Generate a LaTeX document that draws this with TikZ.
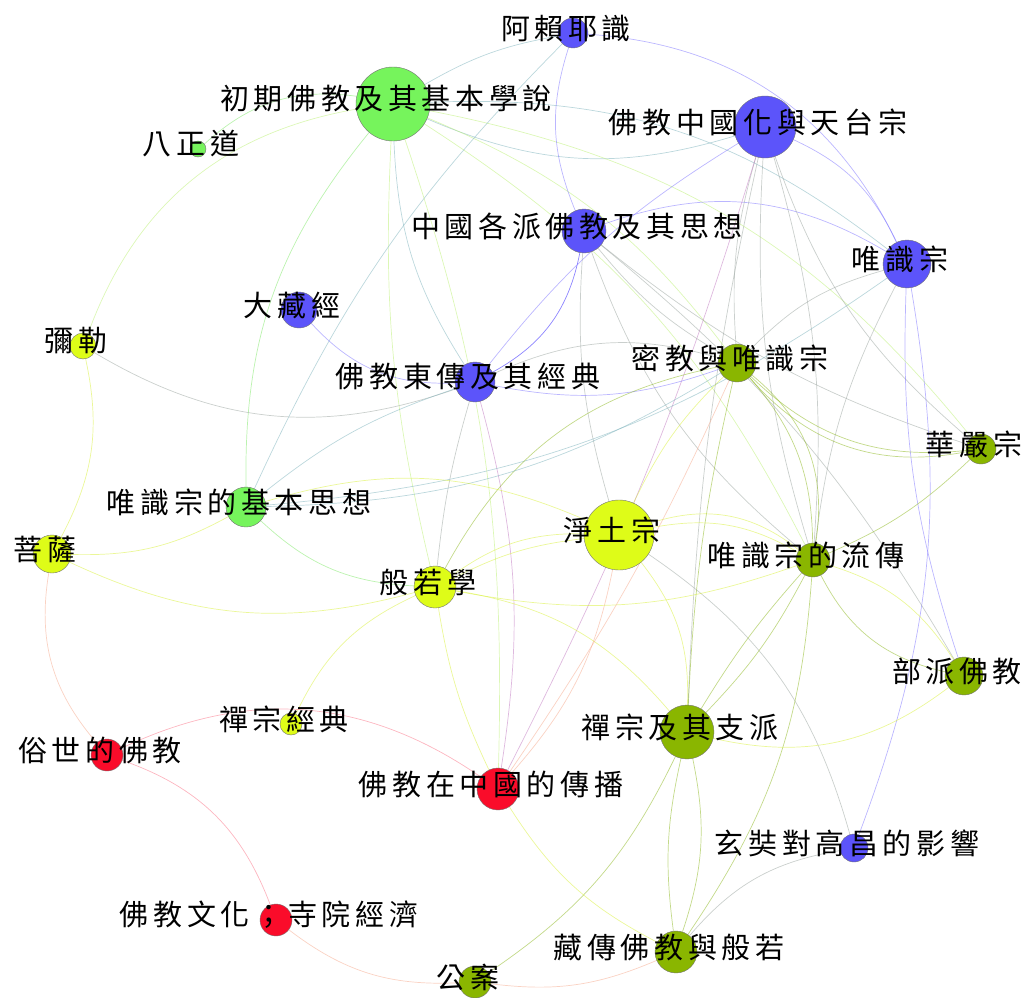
\documentclass[tikz,border=0pt]{standalone}
\usepackage{fontspec}
\newfontfamily\cjk[LetterSpace=16]{Noto Sans CJK TC}
\pgfdeclarelayer{background}
\pgfsetlayers{background,main}
\definecolor{nblue}{RGB}{92,84,250}
\definecolor{ngreen}{RGB}{118,244,92}
\definecolor{nyellow}{RGB}{222,252,24}
\definecolor{nolive}{RGB}{138,182,0}
\definecolor{nred}{RGB}{250,12,42}
\definecolor{cB}{RGB}{120,110,255}
\definecolor{cG}{RGB}{120,230,95}
\definecolor{cY}{RGB}{215,240,50}
\definecolor{cYG}{RGB}{185,240,110}
\definecolor{cO}{RGB}{135,180,20}
\definecolor{cR}{RGB}{250,110,130}
\definecolor{cS}{RGB}{245,165,135}
\definecolor{cT}{RGB}{120,175,185}
\definecolor{cK}{RGB}{150,160,155}
\definecolor{cP}{RGB}{190,115,190}
\tikzset{
  dot/.style={circle,draw=black!55,line width=.4pt,inner sep=0pt},
  lbl/.style={font=\cjk\fontsize{29}{30}\selectfont,inner sep=0pt},
  link/.style={line width=.7pt,draw opacity=.5}
}
\def\nodelist{al/573/33/15/nblue/阿賴耶識,
  cq/393/104/37/ngreen/初期佛教及其基本學說,
  zh/765/127/31/nblue/佛教中國化與天台宗,
  bz/198/149/8/ngreen/八正道,
  gp/584/231/22/nblue/中國各派佛教及其思想,
  wz/907/264/24/nblue/唯識宗,
  dz/299/310/18/nblue/大藏經,
  ml/83/346/13/nyellow/彌勒,
  dc/475/382/20/nblue/佛教東傳及其經典,
  mj/737/363/19/nolive/密教與唯識宗,
  hy/981/449/15/nolive/華嚴宗,
  wj/246/507/20/ngreen/唯識宗的基本思想,
  jt/619/535/35/nyellow/淨土宗,
  lc/813/560/17/nolive/唯識宗的流傳,
  ps/52/554/19/nyellow/菩薩,
  br/435/587/21/nyellow/般若學,
  bp/964/676/19/nolive/部派佛教,
  cj/291/724/11/nyellow/禪宗經典,
  cz/687/732/27/nolive/禪宗及其支派,
  ss/107/755/16/nred/俗世的佛教,
  fz/498/789/21/nred/佛教在中國的傳播,
  xz/854/848/14/nblue/玄奘對高昌的影響,
  wh/276/920/16/nred/佛教文化；寺院經濟,
  zc/676/952/21/nolive/藏傳佛教與般若,
  ga/475/982/16/nolive/公案}
\begin{document}
\begin{tikzpicture}[x=1pt,y=-1pt]
  \useasboundingbox (0,0) rectangle (1031,998);
  \foreach \n/\x/\y/\r/\c/\t in \nodelist
    \node[dot,fill=\c,minimum size=2*\r] (\n) at (\x,\y) {};
  \begin{pgfonlayer}{background}
    % green
    \draw[link,cG] (cq) to[bend right=25] (bz);
    \draw[link,cYG] (cq) to[bend right=30] (ml);
    \draw[link,cG] (cq) to[bend right=20] (wj);
    \draw[link,cT] (cq) to[bend right=15] (dc);
    \draw[link,cYG] (cq) to[bend right=8] (br);
    \draw[link,cYG] (fz) to[bend right=10] (cq);
    \draw[link,cT] (cq) to[bend right=20] (zh);
    \draw[link,cT] (wz) to[bend right=20] (cq);
    \draw[link,cYG] (hy) to[bend right=20] (cq);
    \draw[link,cYG] (mj) to[bend right=15] (cq);
    \draw[link,cYG] (lc) to[bend right=15] (cq);
    % blue
    \draw[link,cB] (wz) to[bend right=30] (al);
    \draw[link,cB] (al) to[bend right=20] (gp);
    \draw[link,cT] (al) to[bend right=10] (cq);
    \draw[link,cT] (al) to[bend right=10] (wj);
    \draw[link,cB] (wz) to[bend right=25] (gp);
    \draw[link,cB] (wz) to[bend right=20] (zh);
    \draw[link,cB] (zh) to[bend right=10] (dc);
    \draw[link,cK] (zh) to[bend right=10] (mj);
    \draw[link,cK] (zh) to[bend right=10] (lc);
    \draw[link,cK] (lc) to[bend right=10] (zh);
    \draw[link,cK] (zh) to[bend right=15] (hy);
    \draw[link,cK] (zh) to[bend right=5] (cz);
    \draw[link,cP] (fz) to[bend right=5] (zh);
    \draw[link,cB,draw opacity=.85] (dc) to[bend right=25] (gp);
    \draw[link,cK] (gp) to[bend right=10] (mj);
    \draw[link,cK] (gp) to[bend right=15] (lc);
    \draw[link,cK] (gp) to[bend right=10] (jt);
    \draw[link,cK] (gp) to[bend right=10] (hy);
    \draw[link,cB] (dz) to[bend right=25] (dc);
    \draw[link,cK] (ml) to[bend right=25] (dc);
    \draw[link,cB] (dc) to[bend right=15] (mj);
    \draw[link,cK] (mj) to[bend right=20] (dc);
    \draw[link,cP] (fz) to[bend right=12] (dc);
    \draw[link,cK] (dc) to[bend right=5] (br);
    \draw[link,cT] (dc) to[bend right=10] (wj);
    \draw[link,cB] (xz) to[bend right=15] (wz);
    \draw[link,cB] (wz) to[bend right=10] (bp);
    \draw[link,cK] (wz) to[bend right=15] (mj);
    \draw[link,cK] (wz) to[bend right=10] (lc);
    \draw[link,cT] (wj) to[bend right=15] (wz);
    \draw[link,cK] (bp) to[bend right=10] (gp);
    % olive
    \draw[link,cO] (mj) to[bend right=25] (hy);
    \draw[link,cO] (mj) to[bend right=30] (hy);
    \draw[link,cO] (lc) to[bend right=20] (mj);
    \draw[link,cO] (lc) to[bend right=30] (mj);
    \draw[link,cO] (mj) to[bend right=25] (br);
    \draw[link,cY] (mj) to[bend right=10] (jt);
    \draw[link,cO] (mj) to[bend right=5] (cz);
    \draw[link,cT] (wj) to[bend right=15] (mj);
    \draw[link,cY] (jt) to[bend right=10] (br);
    \draw[link,cY] (jt) to[bend right=18] (br);
    \draw[link,cY] (lc) to[bend right=20] (jt);
    \draw[link,cY] (lc) to[bend right=28] (jt);
    \draw[link,cY] (cz) to[bend right=20] (jt);
    \draw[link,cS] (fz) to[bend right=15] (jt);
    \draw[link,cY] (jt) to[bend right=20] (wj);
    \draw[link,cK] (xz) to[bend right=20] (jt);
    \draw[link,cO] (lc) to[bend right=25] (bp);
    \draw[link,cY] (bp) to[bend right=20] (lc);
    \draw[link,cO] (lc) to[bend right=5] (cz);
    \draw[link,cO] (cz) to[bend right=8] (lc);
    \draw[link,cO] (zc) to[bend right=15] (lc);
    \draw[link,cY] (br) to[bend right=15] (lc);
    \draw[link,cO] (lc) to[bend right=10] (hy);
    \draw[link,cO] (ga) to[bend right=15] (cz);
    \draw[link,cO] (cz) to[bend right=10] (zc);
    \draw[link,cO] (zc) to[bend right=15] (cz);
    \draw[link,cY] (cz) to[bend right=25] (bp);
    \draw[link,cY] (cz) to[bend right=20] (br);
    % yellow
    \draw[link,cY] (br) to[bend right=20] (cj);
    \draw[link,cY] (ps) to[bend right=20] (br);
    \draw[link,cY] (ps) to[bend right=20] (ml);
    \draw[link,cY] (ps) to[bend right=15] (wj);
    \draw[link,cS] (ps) to[bend right=25] (ss);
    \draw[link,cG] (wj) to[bend right=20] (br);
    \draw[link,cY] (br) to[bend right=8] (fz);
    % red
    \draw[link,cR] (fz) to[bend right=30] (ss);
    \draw[link,cR] (wh) to[bend right=25] (ss);
    \draw[link,cS] (wh) to[bend right=20] (ga);
    \draw[link,cS] (ga) to[bend right=15] (zc);
    \draw[link,cY] (fz) to[bend right=15] (zc);
    \draw[link,cS] (fz) to[bend right=5] (mj);
    \draw[link,cK] (xz) to[bend right=20] (zc);
  \end{pgfonlayer}
  \foreach \n/\x/\y/\r/\c/\t in \nodelist
    \node[lbl] (\n-t) at ([shift={(-7,-5)}]\n.center) {\t};
\end{tikzpicture}
\end{document}
